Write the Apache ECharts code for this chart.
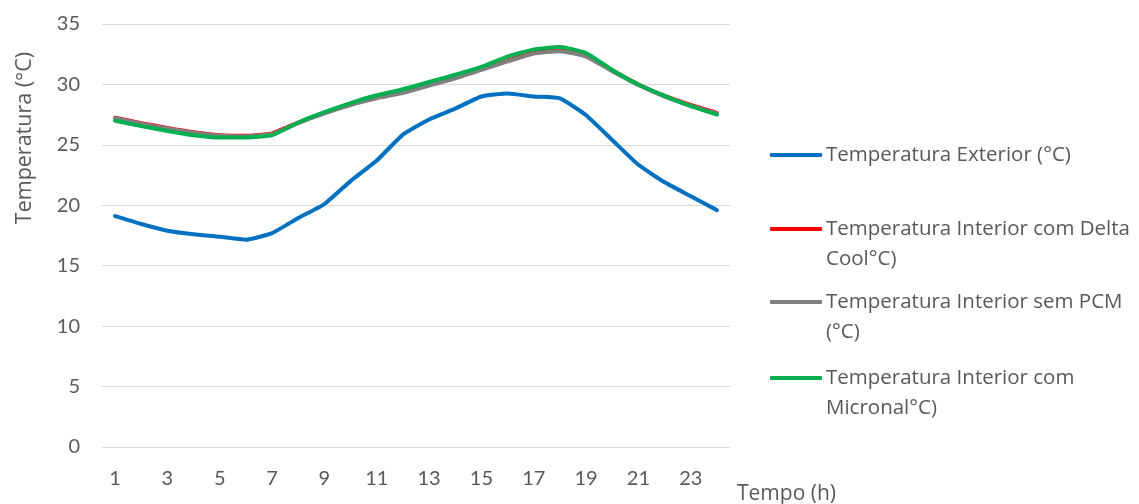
<!DOCTYPE html>
<html>
<head>
<meta charset="utf-8">
<script src="https://cdn.jsdelivr.net/npm/echarts@6/dist/echarts.min.js"></script>
<style>
  html, body { margin: 0; padding: 0; background: #ffffff; }
  #chart { width: 1139px; height: 504px; }
</style>
</head>
<body>
<div id="chart"></div>
<script>
// Hours of the day
const hours = ['1','2','3','4','5','6','7','8','9','10','11','12','13','14','15','16','17','18','19','20','21','22','23','24'];

// Temperatures (°C)
const exterior = [19.1, 18.45, 17.9, 17.6, 17.4, 17.15, 17.7, 18.95, 20.1, 22.0, 23.7, 25.85, 27.1, 28.0, 29.0, 29.25, 29.0, 28.85, 27.45, 25.4, 23.35, 21.9, 20.75, 19.6];
const deltaCool = [27.25, 26.8, 26.4, 26.05, 25.8, 25.75, 25.95, 26.85, 27.65, 28.35, 28.9, 29.35, 29.95, 30.55, 31.25, 31.95, 32.6, 32.8, 32.35, 31.15, 30.0, 29.05, 28.3, 27.65];
const semPCM = [27.2, 26.75, 26.35, 26.0, 25.75, 25.7, 25.9, 26.8, 27.6, 28.3, 28.85, 29.3, 29.9, 30.5, 31.2, 31.9, 32.55, 32.75, 32.3, 31.1, 29.95, 29.0, 28.25, 27.6];
const micronal = [27.0, 26.55, 26.15, 25.8, 25.6, 25.6, 25.8, 26.85, 27.7, 28.45, 29.1, 29.6, 30.2, 30.8, 31.45, 32.3, 32.9, 33.1, 32.6, 31.2, 30.0, 29.05, 28.2, 27.5];

// Series names and the wrapped form shown in the legend
const names = [
  'Temperatura Exterior (°C)',
  'Temperatura Interior com Delta Cool°C)',
  'Temperatura Interior sem PCM (°C)',
  'Temperatura Interior com Micronal°C)'
];
const legendText = [
  'Temperatura Exterior (°C)',
  '\nTemperatura Interior com Delta\nCool°C)',
  '\nTemperatura Interior sem PCM\n(°C)',
  '\nTemperatura Interior com\nMicronal°C)'
];
const colors = ['#0070C0', '#FF0000', '#808080', '#00B050'];
const values = [exterior, deltaCool, semPCM, micronal];

const FONT = 'Open Sans';
const TICK_FONT = 'Lato';
const TXT = '#595959';

// one legend block per series so each icon lines up with the first text line
const legendTops = [140, 184, 257, 333];
const legends = names.map((n, i) => ({
  data: [n],
  left: 770,
  top: legendTops[i],
  padding: 0,
  orient: 'vertical',
  icon: 'roundRect',
  itemWidth: 52,
  itemHeight: 4,
  selectedMode: false,
  formatter: () => legendText[i],
  textStyle: { fontFamily: FONT, fontSize: 20.5, color: TXT, lineHeight: 30, padding: [0, 0, 0, -1] }
}));

const chart = echarts.init(document.getElementById('chart'), null, { renderer: 'canvas' });
chart.setOption({
  animation: false,
  backgroundColor: '#ffffff',
  textStyle: { fontFamily: FONT },
  grid: { left: 102, right: 409, top: 24, bottom: 57, containLabel: false },
  legend: legends,
  xAxis: {
    type: 'category',
    data: hours,
    boundaryGap: true,
    axisLine: { show: true, lineStyle: { color: '#d9d9d9', width: 1 } },
    axisTick: { show: false },
    axisLabel: { interval: 1, margin: 22, fontFamily: TICK_FONT, fontSize: 20, color: TXT },
    splitLine: { show: false }
  },
  yAxis: {
    type: 'value',
    min: 0,
    max: 35,
    interval: 5,
    axisLine: { show: false },
    axisTick: { show: false },
    axisLabel: { margin: 22, fontFamily: TICK_FONT, fontSize: 20, color: TXT },
    splitLine: { show: true, lineStyle: { color: '#d9d9d9', width: 1 } }
  },
  graphic: [
    {
      type: 'text',
      x: 25, y: 138,
      rotation: Math.PI / 2,
      style: { text: 'Temperatura (°C)', fontFamily: FONT, fontSize: 21.5, fill: TXT, align: 'center', verticalAlign: 'middle' }
    },
    {
      type: 'text',
      x: 737, y: 494,
      style: { text: 'Tempo (h)', fontFamily: FONT, fontSize: 21, fill: TXT, align: 'left', verticalAlign: 'middle' }
    }
  ],
  series: names.map((n, i) => ({
    name: n,
    type: 'line',
    data: values[i],
    symbol: 'none',
    smooth: 0.15,
    lineStyle: { color: colors[i], width: 4, cap: 'round', join: 'round' },
    itemStyle: { color: colors[i] },
    z: 2 + i
  }))
});
</script>
</body>
</html>
